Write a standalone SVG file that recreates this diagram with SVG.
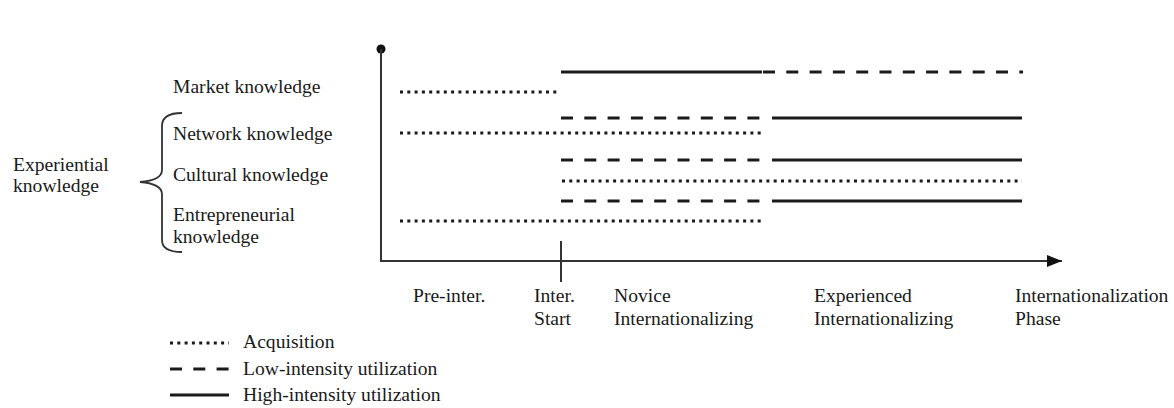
<svg xmlns="http://www.w3.org/2000/svg" width="1174" height="408" viewBox="0 0 1174 408">
<style>
text{font-family:"Liberation Serif","Times New Roman",serif;font-size:19.6px;fill:#1a1a1a}
.ax{stroke:#333;stroke-width:2;fill:none}
.dot{stroke:#1a1a1a;stroke-width:3;stroke-dasharray:3 4.3;fill:none}
.dash{stroke:#1a1a1a;stroke-width:3;stroke-dasharray:12 11.3;fill:none}
.solid{stroke:#1a1a1a;stroke-width:3;fill:none}
</style>
<defs>
<marker id="arr" markerWidth="16" markerHeight="12" refX="15" refY="6" orient="auto" markerUnits="userSpaceOnUse">
<path d="M0,0 L15,6 L0,12 Z" fill="#111"/>
</marker>
</defs>
<g id="axes">
<circle cx="381" cy="49" r="4.5" fill="#111"/>
<path class="ax" d="M381,49 V261 H1062" marker-end="url(#arr)"/>
<path class="ax" d="M561,241 V282"/>
</g>
<g id="connectors">
<path class="solid" d="M561,72 H762"/>
<path class="dash" d="M763,72 H1023"/>
<path class="dot" d="M400,92 H558"/>
<path class="dash" d="M561,118 H762"/>
<path class="solid" d="M772,118 H1022"/>
<path class="dot" d="M400,133 H762"/>
<path class="dash" d="M561,160 H762"/>
<path class="solid" d="M772,160 H1022"/>
<path class="dot" d="M562,181 H1022"/>
<path class="dash" d="M561,201 H762"/>
<path class="solid" d="M772,201 H1022"/>
<path class="dot" d="M400,221 H762"/>
</g>
<g id="labels">
<text x="173" y="93">Market knowledge</text>
<text x="173" y="140">Network knowledge</text>
<text x="173" y="181">Cultural knowledge</text>
<text x="173" y="221">Entrepreneurial</text>
<text x="173" y="243">knowledge</text>
</g>
<g id="experiential">
<text x="13" y="171">Experiential</text>
<text x="13" y="192">knowledge</text>
<path d="M182,113 C170,113 162,116 162,126 V170 C162,178 152,181 140,182 C152,183 162,186 162,194 V240 C162,249 170,252 182,252" fill="none" stroke="#333" stroke-width="1.8"/>
</g>
<g id="phases">
<text x="413" y="302">Pre-inter.</text>
<text x="534" y="302">Inter.</text>
<text x="534" y="325">Start</text>
<text x="614" y="302">Novice</text>
<text x="614" y="325">Internationalizing</text>
<text x="814" y="302">Experienced</text>
<text x="814" y="325">Internationalizing</text>
<text x="1015" y="302">Internationalization</text>
<text x="1015" y="325">Phase</text>
</g>
<g id="legend">
<path class="dot" d="M170,343 H229" stroke-dasharray="2.4 4.1" stroke-width="2.4"/>
<text x="243" y="348">Acquisition</text>
<path class="dash" d="M170,369 H229" stroke-dasharray="15 8.5"/>
<text x="243" y="375">Low-intensity utilization</text>
<path class="solid" d="M170,395 H229"/>
<text x="243" y="401">High-intensity utilization</text>
</g>
</svg>
